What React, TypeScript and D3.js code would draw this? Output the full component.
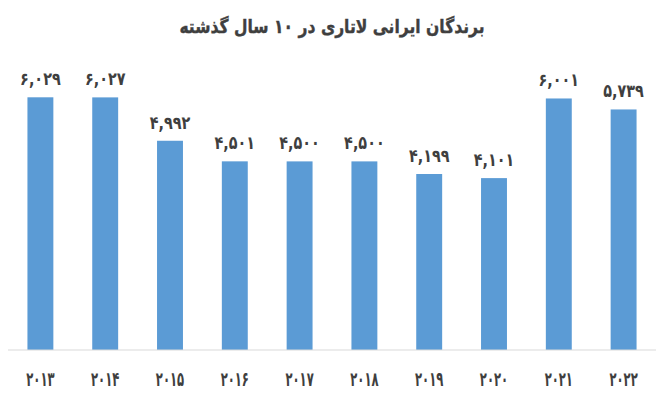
import { useEffect, useRef } from 'react'
import * as d3 from 'd3'

const years = ['۲۰۱۳', '۲۰۱۴', '۲۰۱۵', '۲۰۱۶', '۲۰۱۷', '۲۰۱۸', '۲۰۱۹', '۲۰۲۰', '۲۰۲۱', '۲۰۲۲']
const winners = [6029, 6027, 4992, 4501, 4500, 4500, 4199, 4101, 6001, 5739]
const labels = ['۶,۰۲۹', '۶,۰۲۷', '۴,۹۹۲', '۴,۵۰۱', '۴,۵۰۰', '۴,۵۰۰', '۴,۱۹۹', '۴,۱۰۱', '۶,۰۰۱', '۵,۷۳۹']
const title = 'برندگان ایرانی لاتاری در ۱۰ سال گذشته'

export default function App() {
  const svgRef = useRef<SVGSVGElement>(null)
  const width = 666
  const height = 400

  useEffect(() => {
    if (!svgRef.current) return
    const svg = d3.select(svgRef.current)
    svg.selectAll('*').remove()

    const font = '"DejaVu Sans", sans-serif'
    const textColor = '#3f3f3f'

    const x = d3.scaleBand<string>()
      .domain(years)
      .range([8, 656])
      .paddingInner(0.6)
      .paddingOuter(0.3)

    const y = d3.scaleLinear()
      .domain([0, 7000])
      .range([350, 56.6])

    const cx = (k: string) => (x(k) as number) + x.bandwidth() / 2

    // Title (squeezed a bit to mimic the condensed Persian face)
    svg.append('text')
      .attr('transform', 'translate(332, 33) scale(0.82, 1)')
      .attr('text-anchor', 'middle')
      .attr('direction', 'rtl')
      .style('font-family', font)
      .style('font-size', '19px')
      .style('font-weight', '700')
      .style('fill', textColor)
      .style('stroke', textColor)
      .style('stroke-width', 0.4)
      .text(title)

    // Bars
    svg.selectAll('.bar')
      .data(winners)
      .enter().append('rect')
      .attr('class', 'bar')
      .attr('x', (d, i) => x(years[i]) as number)
      .attr('y', d => y(d))
      .attr('width', x.bandwidth())
      .attr('height', d => y(0) - y(d))
      .attr('fill', '#5b9bd5')

    // Value labels
    svg.selectAll('.value')
      .data(winners)
      .enter().append('text')
      .attr('class', 'value')
      .attr('transform', (d, i) => `translate(${cx(years[i])}, ${y(d) - 12}) scale(0.8, 1)`)
      .attr('text-anchor', 'middle')
      .style('font-family', font)
      .style('font-size', '18px')
      .style('font-weight', '700')
      .style('fill', textColor)
      .text((d, i) => labels[i])

    // Baseline
    svg.append('line')
      .attr('x1', 8)
      .attr('x2', 656)
      .attr('y1', y(0))
      .attr('y2', y(0))
      .attr('stroke', '#d9d9d9')
      .attr('stroke-width', 1)

    // Year labels
    svg.selectAll('.year')
      .data(years)
      .enter().append('text')
      .attr('class', 'year')
      .attr('transform', d => `translate(${cx(d)}, 386) scale(0.58, 1)`)
      .attr('text-anchor', 'middle')
      .style('font-family', font)
      .style('font-size', '20px')
      .style('font-weight', '700')
      .style('fill', textColor)
      .text(d => d)
  }, [])

  return (
    <svg
      ref={svgRef}
      width={width}
      height={height}
      style={{ position: 'absolute', left: 0, top: 0, background: '#fff' }}
    />
  )
}
